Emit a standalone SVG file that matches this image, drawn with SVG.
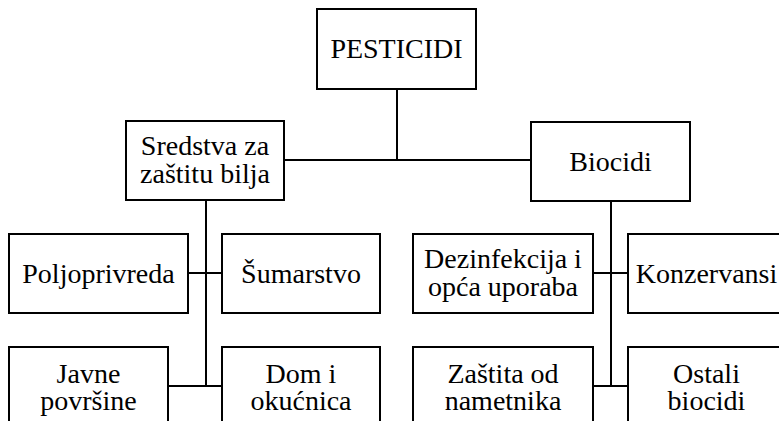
<svg xmlns="http://www.w3.org/2000/svg" width="779" height="421" viewBox="0 0 779 421">
<rect x="0" y="0" width="779" height="421" fill="#fff"/>
<g id="connectors" stroke="#000" stroke-width="2">
<line x1="397" y1="89" x2="397" y2="161"/>
<line x1="284" y1="160" x2="531" y2="160"/>
<line x1="206" y1="200" x2="206" y2="387"/>
<line x1="188" y1="273" x2="222" y2="273"/>
<line x1="168" y1="386" x2="222" y2="386"/>
<line x1="611" y1="201" x2="611" y2="387"/>
<line x1="593" y1="273" x2="628" y2="273"/>
<line x1="593" y1="386" x2="628" y2="386"/>
</g>
<g fill="#fff" stroke="#000" stroke-width="2">
<rect x="317" y="9" width="159" height="80"/>
<rect x="126" y="121" width="158" height="79"/>
<rect x="531" y="122" width="159" height="79"/>
<rect x="9" y="234" width="179" height="79"/>
<rect x="222" y="234" width="158" height="79"/>
<rect x="9" y="347" width="159" height="90"/>
<rect x="222" y="347" width="158" height="90"/>
<rect x="413" y="234" width="180" height="79"/>
<rect x="628" y="234" width="170" height="79"/>
<rect x="413" y="347" width="180" height="90"/>
<rect x="628" y="347" width="170" height="90"/>
</g>
<g id="pesticidi"><text text-anchor="middle" font-family="Times New Roman, serif" font-size="28" x="396.5" y="58">PESTICIDI</text></g>
<g id="sredstva"><text text-anchor="middle" font-family="Times New Roman, serif" font-size="28" x="205" y="155">Sredstva za</text><text text-anchor="middle" font-family="Times New Roman, serif" font-size="28" x="205" y="183">za&#353;titu bilja</text></g>
<g id="biocidi"><text text-anchor="middle" font-family="Times New Roman, serif" font-size="28" x="610.5" y="171">Biocidi</text></g>
<g id="poljoprivreda"><text text-anchor="middle" font-family="Times New Roman, serif" font-size="28" x="98.5" y="283">Poljoprivreda</text></g>
<g id="sumarstvo"><text text-anchor="middle" font-family="Times New Roman, serif" font-size="28" x="301" y="283">&#352;umarstvo</text></g>
<g id="javne"><text text-anchor="middle" font-family="Times New Roman, serif" font-size="28" x="88.5" y="383">Javne</text><text text-anchor="middle" font-family="Times New Roman, serif" font-size="28" x="88.5" y="410">povr&#353;ine</text></g>
<g id="dom"><text text-anchor="middle" font-family="Times New Roman, serif" font-size="28" x="301" y="383">Dom i</text><text text-anchor="middle" font-family="Times New Roman, serif" font-size="28" x="301" y="410">oku&#263;nica</text></g>
<g id="dezinfekcija"><text text-anchor="middle" font-family="Times New Roman, serif" font-size="28" x="503" y="268">Dezinfekcija i</text><text text-anchor="middle" font-family="Times New Roman, serif" font-size="28" x="503" y="296">op&#263;a uporaba</text></g>
<g id="konzervansi"><text text-anchor="middle" font-family="Times New Roman, serif" font-size="28" x="706.5" y="283">Konzervansi</text></g>
<g id="zastita"><text text-anchor="middle" font-family="Times New Roman, serif" font-size="28" x="503" y="383">Za&#353;tita od</text><text text-anchor="middle" font-family="Times New Roman, serif" font-size="28" x="503" y="410">nametnika</text></g>
<g id="ostali"><text text-anchor="middle" font-family="Times New Roman, serif" font-size="28" x="706.5" y="383">Ostali</text><text text-anchor="middle" font-family="Times New Roman, serif" font-size="28" x="706.5" y="410">biocidi</text></g>
</svg>
